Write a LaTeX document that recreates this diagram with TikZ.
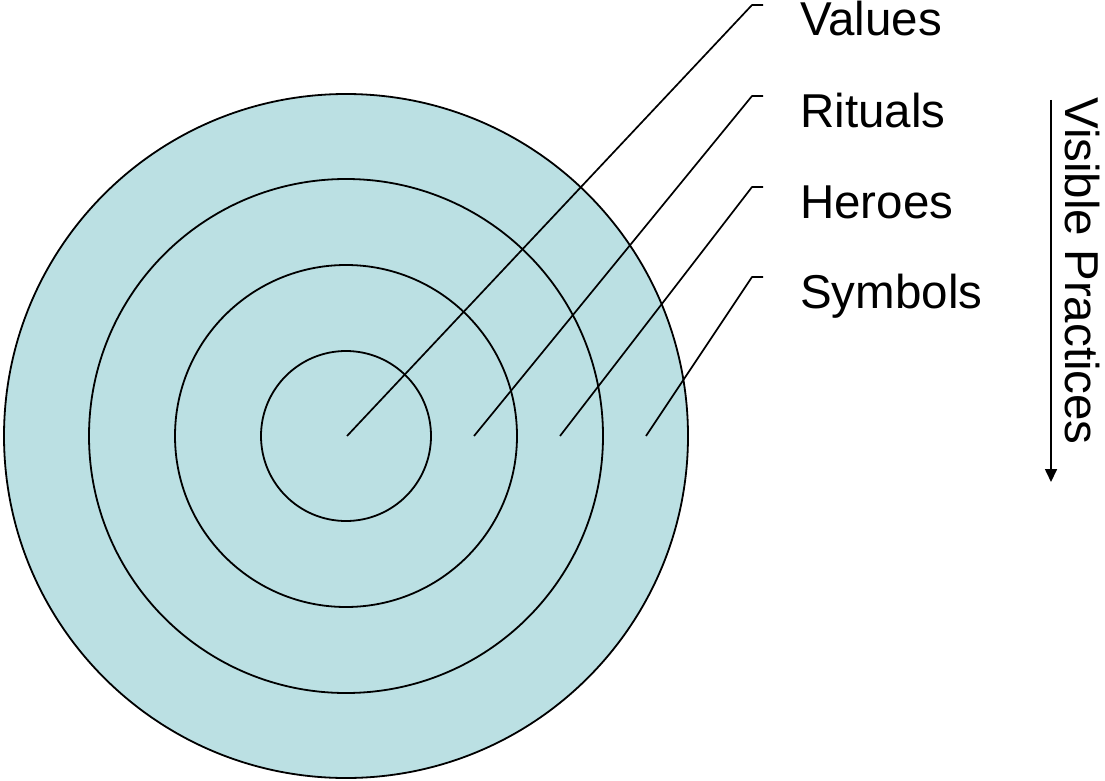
\documentclass[tikz,border=0pt]{standalone}
\usepackage{fontspec}
\setmainfont{Liberation Sans}
\usetikzlibrary{arrows.meta}
\definecolor{ringfill}{HTML}{BBE0E3}
\begin{document}
\begin{tikzpicture}[x=1pt,y=-1pt,
  ring/.style={draw=black,line width=1.8pt},
  leader/.style={draw=black,line width=1.7pt,line join=round},
  label/.style={anchor=base west,inner sep=0pt,font=\fontsize{47.5}{50}\selectfont}]
\useasboundingbox (0,0) rectangle (1105,781);
% concentric layers of the onion
\coordinate (c) at (346,436);
\fill[ringfill] (c) circle[radius=342];
\draw[ring] (c) circle[radius=342];
\draw[ring] (c) circle[radius=257];
\draw[ring] (c) circle[radius=171];
\draw[ring] (c) circle[radius=85];
% layer labels
\node[label] (values)  at (800,36)  {Values};
\node[label] (rituals) at (800,128) {Rituals};
\node[label] (heroes)  at (800,218) {Heroes};
\node[label] (symbols) at (800,308) {Symbols};
% leader lines from each layer to its label
\coordinate (pv) at (347,436);
\coordinate (pr) at (474,436);
\coordinate (ph) at (560,436);
\coordinate (ps) at (646,436);
\coordinate (kv) at (752,5);
\coordinate (kr) at (752,96);
\coordinate (kh) at (752,187);
\coordinate (ks) at (752,277);
\draw[leader] (pv) -- (kv) -- ++(11,0);
\draw[leader] (pr) -- (kr) -- ++(11,0);
\draw[leader] (ph) -- (kh) -- ++(11,0);
\draw[leader] (ps) -- (ks) -- ++(11,0);
% depth arrow
\coordinate (atop) at (1051,100);
\coordinate (abot) at (1051,482);
\draw[line width=1.7pt,-{Triangle[length=13pt,width=12pt]}] (atop) -- (abot);
\node[label,rotate=-90] (vis) at (1065,97) {Visible Practices};
\end{tikzpicture}
\end{document}
